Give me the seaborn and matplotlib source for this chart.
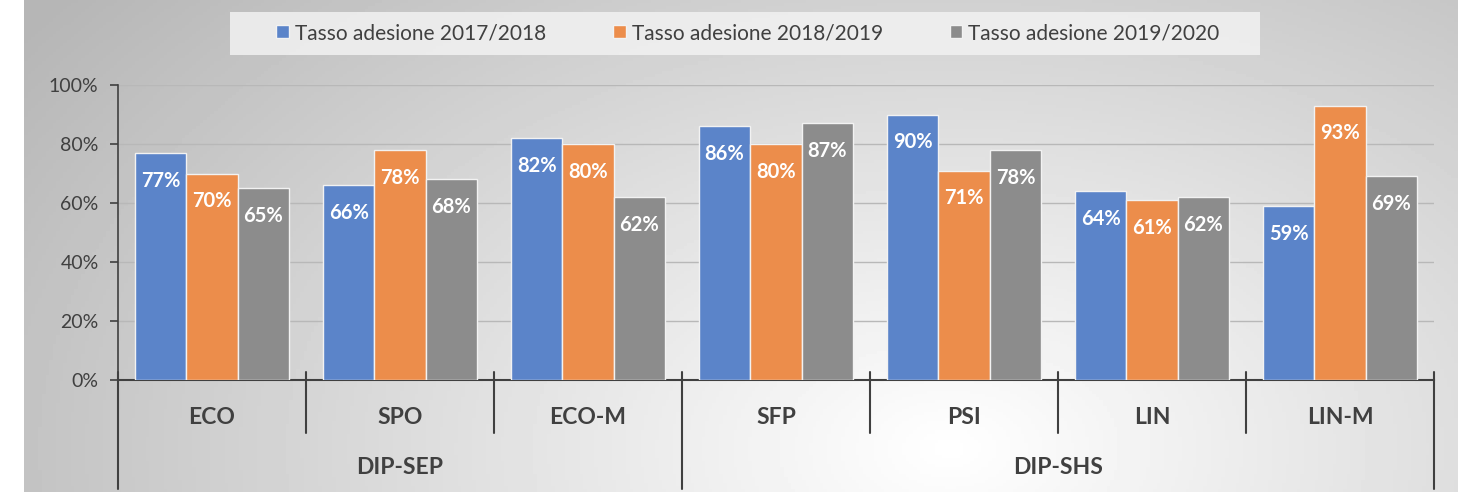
import numpy as np
import pandas as pd
import matplotlib
matplotlib.use("Agg")
import matplotlib.pyplot as plt
import seaborn as sns
from matplotlib.transforms import blended_transform_factory
from matplotlib.patches import Rectangle

categories = ["ECO", "SPO", "ECO-M", "SFP", "PSI", "LIN", "LIN-M"]
groups = ["DIP-SEP", "DIP-SEP", "DIP-SEP", "DIP-SHS", "DIP-SHS", "DIP-SHS", "DIP-SHS"]
series = ["Tasso adesione 2017/2018", "Tasso adesione 2018/2019", "Tasso adesione 2019/2020"]
v2017 = [77, 66, 82, 86, 90, 64, 59]
v2018 = [70, 78, 80, 80, 71, 61, 93]
v2019 = [65, 68, 62, 87, 78, 62, 69]
colors = ["#5B84C9", "#EC8D4B", "#8C8C8C"]

rows = []
for s, vals in zip(series, [v2017, v2018, v2019]):
    for c, v in zip(categories, vals):
        rows.append({"cat": c, "val": v, "serie": s})
df = pd.DataFrame(rows)

sns.set_theme(style="white")
plt.rcParams["font.family"] = ["Lato", "DejaVu Sans"]
TXT = "#404040"

W, H = 1458, 492
fig = plt.figure(figsize=(W / 100, H / 100), dpi=100)
fig.patch.set_facecolor("white")

# gradient background
bg = fig.add_axes([24 / W, 0, 1 - 24 / W, 1])
xx, yy = np.meshgrid(np.linspace(24, W, 400), np.linspace(0, H, 160))
d = np.sqrt(((xx - 950) / 950) ** 2 + ((yy - 450) / 600) ** 2)
g = 1 - 0.24 * np.clip(d, 0, 1.2)
bg.imshow(g, cmap="gray", vmin=0, vmax=1, aspect="auto", extent=[0, 1, 0, 1], origin="upper")
bg.set_axis_off()

# legend box
fig.patches.append(Rectangle((230 / W, 1 - 55 / H), 1030 / W, 43 / H, transform=fig.transFigure,
                             facecolor="#f2f2f2", edgecolor="none", alpha=0.85, zorder=1))

x0, x1 = 118, 1434
y0, y1 = 380, 85
ax = fig.add_axes([x0 / W, 1 - y0 / H, (x1 - x0) / W, (y0 - y1) / H])
ax.set_facecolor("none")

sns.barplot(data=df, x="cat", y="val", hue="serie", palette=colors, order=categories,
            hue_order=series, width=0.82, gap=0, edgecolor="#f2f2f2", linewidth=1,
            ax=ax, legend=True, saturation=1, zorder=3)

for cont in ax.containers:
    for bar in cont:
        v = bar.get_height()
        ax.annotate(f"{v:.0f}%", (bar.get_x() + bar.get_width() / 2, v),
                    xytext=(0, -20), textcoords="offset points", ha="center", va="center",
                    color="white", fontsize=14.5, fontweight="bold", zorder=5)

ax.set_xlim(-0.5, len(categories) - 0.5)
ax.set_ylim(0, 100)
ax.set_yticks([0, 20, 40, 60, 80, 100])
ax.set_yticklabels([f"{t}%" for t in [0, 20, 40, 60, 80, 100]], color=TXT, fontsize=14)
ax.tick_params(axis="y", which="both", left=True, length=6, width=1.2, color="#404040", pad=8)
ax.grid(axis="y", color="#b8b8b8", linewidth=1, zorder=0)
ax.set_axisbelow(True)
ax.set_xticks([])
ax.set_xlabel("")
ax.set_ylabel("")
for sp in ["top", "right"]:
    ax.spines[sp].set_visible(False)
ax.spines["left"].set_color("#404040")
ax.spines["left"].set_linewidth(1.2)
ax.spines["bottom"].set_color("#404040")
ax.spines["bottom"].set_linewidth(1.5)

# multi-level axis
tr = blended_transform_factory(ax.transData, fig.transFigure)
ly = lambda py: 1 - py / H
for i, c in enumerate(categories):
    ax.text(i, ly(417), c, transform=tr, ha="center", va="center", fontsize=16.5,
            fontweight="bold", color=TXT)
bounds = np.arange(len(categories) + 1) - 0.5
for i, b in enumerate(bounds):
    is_group = i == 0 or i == len(bounds) - 1 or groups[i - 1] != groups[i]
    end = 489 if is_group else 433
    ax.plot([b, b], [ly(372), ly(end)], transform=tr, color="#404040", lw=1.5, clip_on=False)
ug = []
for gname in groups:
    if gname not in ug:
        ug.append(gname)
for gname in ug:
    idx = [i for i, gg in enumerate(groups) if gg == gname]
    ax.text(np.mean(idx), ly(467), gname, transform=tr, ha="center", va="center",
            fontsize=16.5, fontweight="bold", color=TXT)

# legend
handles, labels = ax.get_legend_handles_labels()
ax.legend_.remove()
leg = fig.legend(handles, labels, loc="center", bbox_to_anchor=(748 / W, 1 - 33 / H), ncol=3,
                 frameon=False, fontsize=15, handlelength=0.6, handleheight=0.6,
                 handletextpad=0.3, columnspacing=3.2)
for t in leg.get_texts():
    t.set_color(TXT)

fig.savefig("out.png", dpi=100)
